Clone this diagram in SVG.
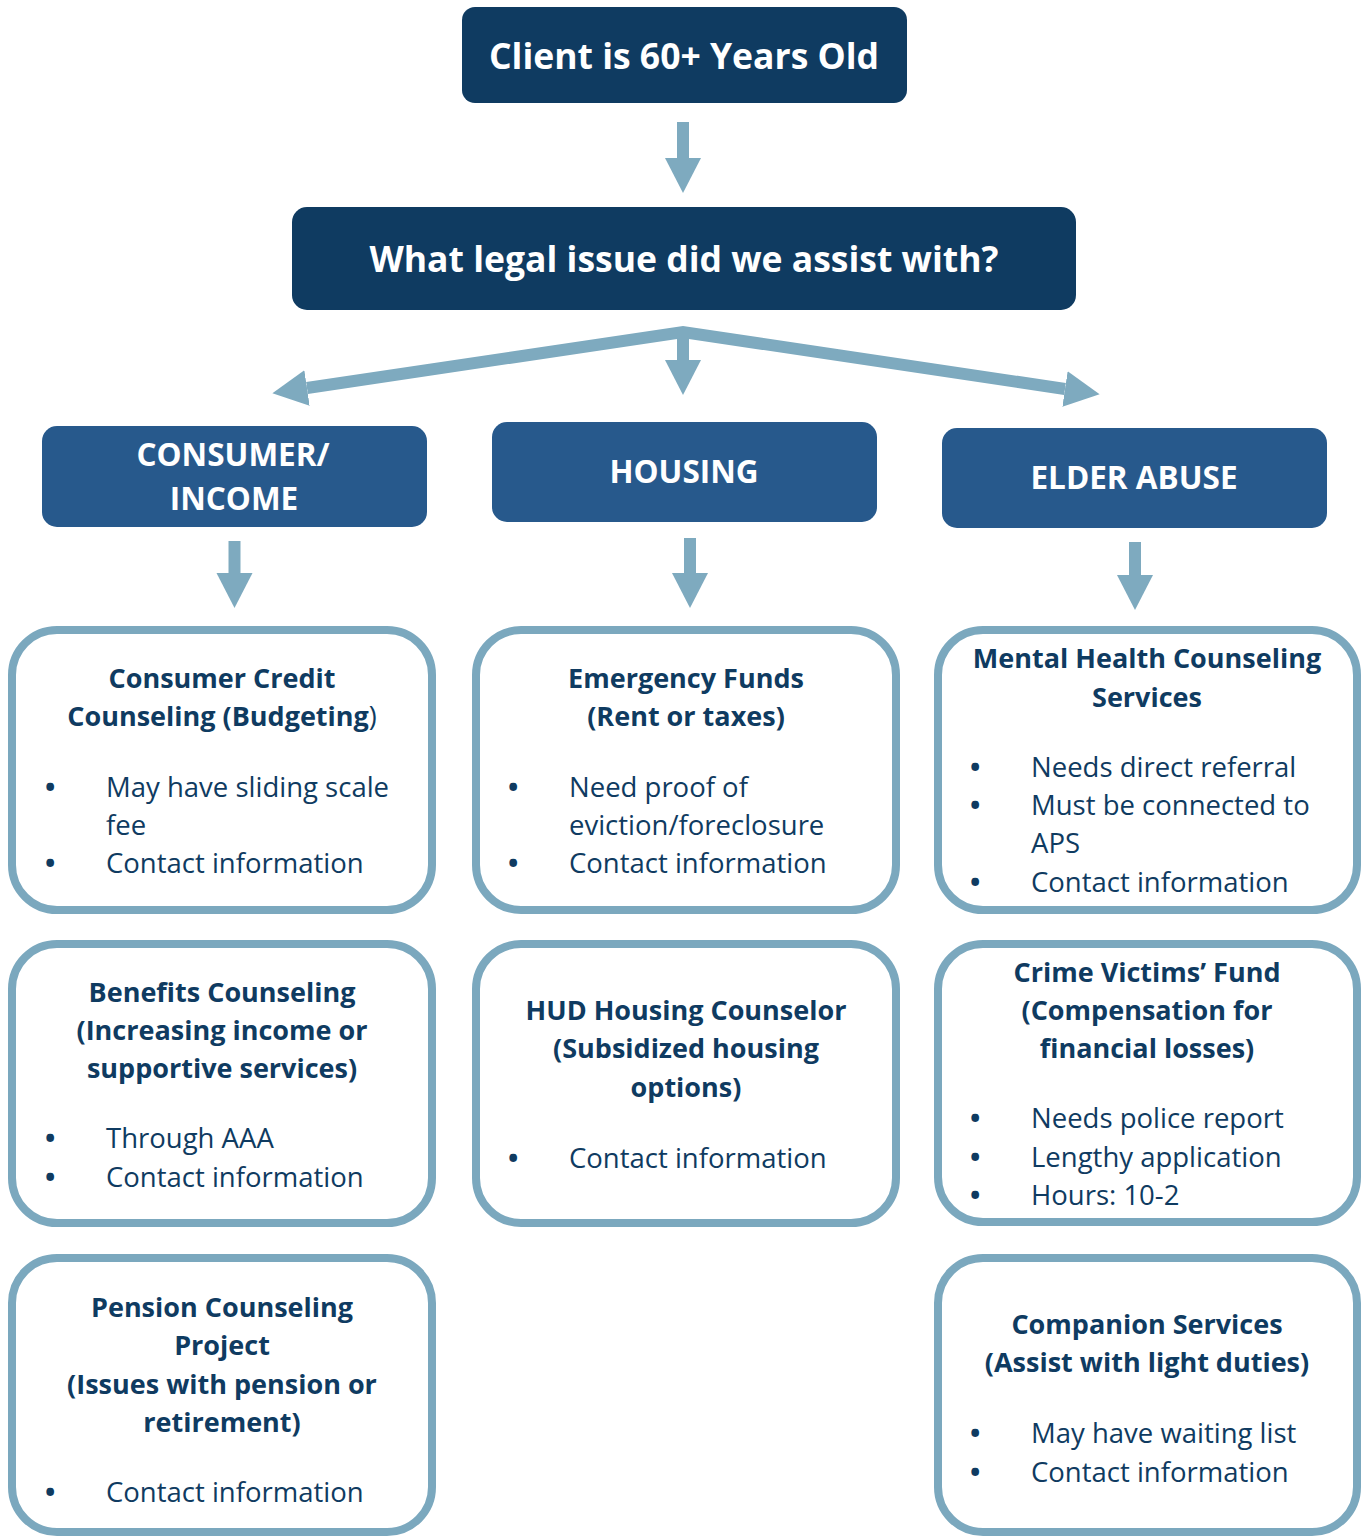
<svg xmlns="http://www.w3.org/2000/svg" width="1366" height="1538" viewBox="0 0 1366 1538">
  <style>
    .head { fill: #0f3b61; }
    .cat { fill: #27598c; }
    .card { fill: #ffffff; stroke: #7ba8be; stroke-width: 8; }
    .wt { fill: #ffffff; font-family: "Open Sans", "Liberation Sans", sans-serif; font-weight: bold; text-anchor: middle; }
    .ttl { fill: #0f3b61; font-family: "Open Sans", "Liberation Sans", sans-serif; font-weight: bold; font-size: 27px; text-anchor: middle; }
    .txt { fill: #0f3b61; font-family: "Open Sans", "Liberation Sans", sans-serif; font-size: 27.5px; }
    .bul { font-weight: bold; }
    .arw { fill: none; stroke: #7eaabf; stroke-width: 12; stroke-linejoin: miter; }
  </style>
  <defs>
    <marker id="tip" markerUnits="userSpaceOnUse" markerWidth="40" markerHeight="40" viewBox="0 -20 40 40" refX="0" refY="0" orient="auto-start-reverse">
      <path d="M0,-18 L35,0 L0,18 Z" fill="#7eaabf"/>
    </marker>
  </defs>

  <rect width="1366" height="1538" fill="#ffffff"/>

  <!-- connectors -->
  <g id="connectors">
    <path class="arw" d="M683,122 V158" marker-end="url(#tip)"/>
    <path class="arw" d="M307,388 L683,332 L1065,389" marker-start="url(#tip)" marker-end="url(#tip)"/>
    <path class="arw" d="M683,328 V360" marker-end="url(#tip)"/>
    <path class="arw" d="M234.5,541 V573" marker-end="url(#tip)"/>
    <path class="arw" d="M690,538 V573" marker-end="url(#tip)"/>
    <path class="arw" d="M1135,542 V575" marker-end="url(#tip)"/>
  </g>

  <!-- header nodes -->
  <g id="client">
    <rect class="head" x="462" y="7" width="445" height="96" rx="13"/>
    <text class="wt" x="684" y="69" font-size="35.5">Client is 60+ Years Old</text>
  </g>
  <g id="question">
    <rect class="head" x="292" y="207" width="784" height="103" rx="15"/>
    <text class="wt" x="684" y="272" font-size="35.5">What legal issue did we assist with?</text>
  </g>

  <!-- category nodes -->
  <g id="consumer">
    <rect class="cat" x="42" y="426" width="385" height="101" rx="15"/>
    <text class="wt" x="233" y="466" font-size="31.5">CONSUMER/</text>
    <text class="wt" x="234" y="510" font-size="31.5">INCOME</text>
  </g>
  <g id="housing">
    <rect class="cat" x="492" y="422" width="385" height="100" rx="15"/>
    <text class="wt" x="684" y="483" font-size="31.5">HOUSING</text>
  </g>
  <g id="elder">
    <rect class="cat" x="942" y="428" width="385" height="100" rx="15"/>
    <text class="wt" x="1134" y="489" font-size="31.5">ELDER ABUSE</text>
  </g>

  <!-- consumer / income resources -->
  <g id="credit">
    <rect class="card" x="12" y="630" width="420" height="280" rx="45"/>
    <text class="ttl" x="222" y="688">Consumer Credit</text>
    <text class="ttl" x="222" y="726">Counseling (Budgeting<tspan font-weight="normal">)</tspan></text>
    <text class="txt" y="797"><tspan class="bul" x="45">•</tspan><tspan x="106">May have sliding scale</tspan></text>
    <text class="txt" x="106" y="835">fee</text>
    <text class="txt" y="873"><tspan class="bul" x="45">•</tspan><tspan x="106">Contact information</tspan></text>
  </g>
  <g id="benefits">
    <rect class="card" x="12" y="944" width="420" height="279" rx="45"/>
    <text class="ttl" x="222" y="1002">Benefits Counseling</text>
    <text class="ttl" x="222" y="1040">(Increasing income or</text>
    <text class="ttl" x="222" y="1078">supportive services)</text>
    <text class="txt" y="1148"><tspan class="bul" x="45">•</tspan><tspan x="106">Through AAA</tspan></text>
    <text class="txt" y="1187"><tspan class="bul" x="45">•</tspan><tspan x="106">Contact information</tspan></text>
  </g>
  <g id="pension">
    <rect class="card" x="12" y="1258" width="420" height="274" rx="45"/>
    <text class="ttl" x="222" y="1317">Pension Counseling</text>
    <text class="ttl" x="222" y="1355">Project</text>
    <text class="ttl" x="222" y="1394">(Issues with pension or</text>
    <text class="ttl" x="222" y="1432">retirement)</text>
    <text class="txt" y="1502"><tspan class="bul" x="45">•</tspan><tspan x="106">Contact information</tspan></text>
  </g>

  <!-- housing resources -->
  <g id="emergency">
    <rect class="card" x="476" y="630" width="420" height="280" rx="45"/>
    <text class="ttl" x="686" y="688">Emergency Funds</text>
    <text class="ttl" x="686" y="726">(Rent or taxes)</text>
    <text class="txt" y="797"><tspan class="bul" x="508">•</tspan><tspan x="569">Need proof of</tspan></text>
    <text class="txt" x="569" y="835">eviction/foreclosure</text>
    <text class="txt" y="873"><tspan class="bul" x="508">•</tspan><tspan x="569">Contact information</tspan></text>
  </g>
  <g id="hud">
    <rect class="card" x="476" y="944" width="420" height="279" rx="45"/>
    <text class="ttl" x="686" y="1020">HUD Housing Counselor</text>
    <text class="ttl" x="686" y="1058">(Subsidized housing</text>
    <text class="ttl" x="686" y="1097">options)</text>
    <text class="txt" y="1168"><tspan class="bul" x="508">•</tspan><tspan x="569">Contact information</tspan></text>
  </g>

  <!-- elder abuse resources -->
  <g id="mental-health">
    <rect class="card" x="938" y="630" width="419" height="280" rx="45"/>
    <text class="ttl" x="1147" y="668">Mental Health Counseling</text>
    <text class="ttl" x="1147" y="707">Services</text>
    <text class="txt" y="777"><tspan class="bul" x="970">•</tspan><tspan x="1031">Needs direct referral</tspan></text>
    <text class="txt" y="815"><tspan class="bul" x="970">•</tspan><tspan x="1031">Must be connected to</tspan></text>
    <text class="txt" x="1031" y="853">APS</text>
    <text class="txt" y="892"><tspan class="bul" x="970">•</tspan><tspan x="1031">Contact information</tspan></text>
  </g>
  <g id="crime-victims">
    <rect class="card" x="938" y="944" width="419" height="278" rx="45"/>
    <text class="ttl" x="1147" y="982">Crime Victims’ Fund</text>
    <text class="ttl" x="1147" y="1020">(Compensation for</text>
    <text class="ttl" x="1147" y="1058">financial losses)</text>
    <text class="txt" y="1128"><tspan class="bul" x="970">•</tspan><tspan x="1031">Needs police report</tspan></text>
    <text class="txt" y="1167"><tspan class="bul" x="970">•</tspan><tspan x="1031">Lengthy application</tspan></text>
    <text class="txt" y="1205"><tspan class="bul" x="970">•</tspan><tspan x="1031">Hours: 10-2</tspan></text>
  </g>
  <g id="companion">
    <rect class="card" x="938" y="1258" width="419" height="274" rx="45"/>
    <text class="ttl" x="1147" y="1334">Companion Services</text>
    <text class="ttl" x="1147" y="1372">(Assist with light duties)</text>
    <text class="txt" y="1443"><tspan class="bul" x="970">•</tspan><tspan x="1031">May have waiting list</tspan></text>
    <text class="txt" y="1482"><tspan class="bul" x="970">•</tspan><tspan x="1031">Contact information</tspan></text>
  </g>
</svg>
